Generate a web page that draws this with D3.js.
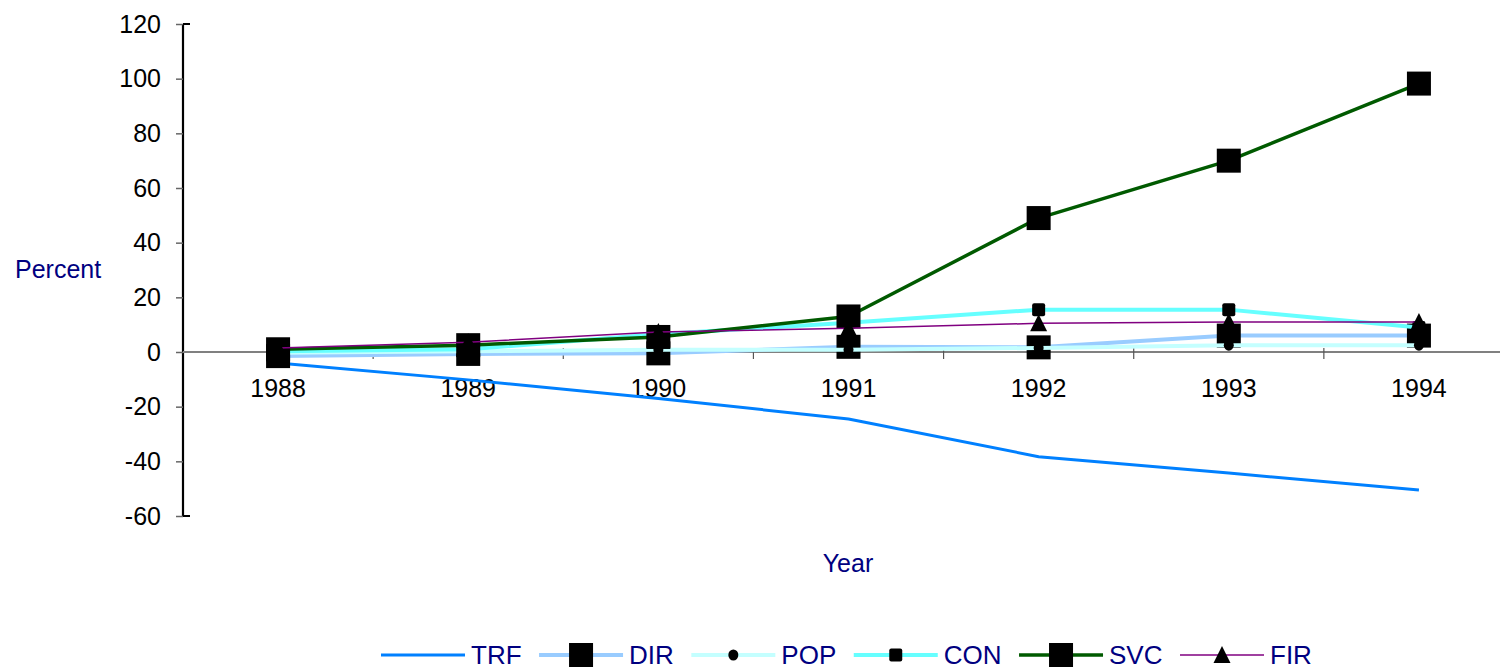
<!DOCTYPE html>
<html>
<head>
<meta charset="utf-8">
<script src="https://cdn.jsdelivr.net/npm/d3@7/dist/d3.min.js"></script>
<style>
  html, body { margin: 0; padding: 0; background: #fff; }
  svg { display: block; font-family: "Liberation Sans", Arial, sans-serif; }
</style>
</head>
<body>
<svg id="chart" width="1500" height="672"></svg>
<script>
// Annual percent change by component, 1988-1994
const years = ["1988", "1989", "1990", "1991", "1992", "1993", "1994"];
const trf = [-4, -10.2, -17, -24.5, -38.3, -44.3, -50.5];
const dir = [-1.5, -0.7, -0.5, 1.9, 1.7, 6, 6];
const pop = [-0.3, 0.3, 0.8, 0.8, 1.5, 2.5, 2.5];
const con = [0.3, 1, 6.5, 10.7, 15.5, 15.5, 9];
const svc = [1, 2.5, 5.5, 13, 49, 70, 98.2];
const fir = [1.5, 3.6, 7.3, 8.7, 10.5, 11, 11];
const yTicks = [120, 100, 80, 60, 40, 20, 0, -20, -40, -60];

const series = [
  { name: "TRF", values: trf, color: "#0080ff", width: 3,   marker: null },
  { name: "DIR", values: dir, color: "#99ccff", width: 4,   marker: "bigSquare" },
  { name: "POP", values: pop, color: "#c4ffff", width: 4,   marker: "circle" },
  { name: "CON", values: con, color: "#66ffff", width: 4,   marker: "smallSquare" },
  { name: "SVC", values: svc, color: "#005a00", width: 3.5, marker: "bigSquare" },
  { name: "FIR", values: fir, color: "#800080", width: 1.5, marker: "triangle" }
];

const svg = d3.select("#chart");
const plotLeft = 183, plotRight = 1514, plotTop = 24, plotBottom = 516;

const x = d3.scaleBand().domain(years).range([plotLeft, plotRight]).padding(0);
const y = d3.scaleLinear().domain([-60, 120]).range([plotBottom, plotTop]);
const cx = d => x(d) + x.bandwidth() / 2;

// y axis (plain hyphen for negatives)
const yAxis = svg.append("g")
  .attr("transform", `translate(${plotLeft},0)`)
  .call(d3.axisLeft(y).tickValues(yTicks).tickSize(7).tickPadding(15).tickFormat(d => String(d)));
yAxis.select(".domain").attr("stroke", "#000").attr("stroke-width", 2.2)
  .attr("d", `M0,${plotTop}V${plotBottom}M0,${plotTop}H7M0,${plotBottom}H7`);
yAxis.selectAll(".tick line").attr("stroke", "#666").attr("stroke-width", 1.5);
yAxis.selectAll(".tick text").attr("font-size", 25).attr("fill", "#000")
  .attr("font-family", "Liberation Sans, Arial, sans-serif");

// category axis along zero
const xAxisG = svg.append("g").attr("transform", `translate(0,${y(0)})`);
xAxisG.append("line")
  .attr("x1", plotLeft).attr("x2", plotRight).attr("y1", 0).attr("y2", 0)
  .attr("stroke", "#808080").attr("stroke-width", 2);
xAxisG.selectAll("line.cat-tick")
  .data(years.slice(1))
  .join("line")
  .attr("class", "cat-tick")
  .attr("x1", d => x(d)).attr("x2", d => x(d))
  .attr("y1", -4).attr("y2", 7)
  .attr("stroke", "#555").attr("stroke-width", 1.2);
xAxisG.selectAll("text.cat-label")
  .data(years)
  .join("text")
  .attr("class", "cat-label")
  .attr("x", d => cx(d)).attr("y", 45)
  .attr("text-anchor", "middle")
  .attr("font-size", 25).attr("fill", "#000")
  .text(d => d);

// axis titles
svg.append("text").attr("x", 15).attr("y", 278)
  .attr("font-size", 25).attr("fill", "#000080").text("Percent");
svg.append("text").attr("x", 848).attr("y", 572).attr("text-anchor", "middle")
  .attr("font-size", 25).attr("fill", "#000080").text("Year");

// marker shapes
function drawMarker(g, type, px, py) {
  if (type === "bigSquare") {
    g.append("rect").attr("x", px - 12).attr("y", py - 12).attr("width", 24).attr("height", 24).attr("fill", "#000");
  } else if (type === "smallSquare") {
    g.append("rect").attr("x", px - 6.5).attr("y", py - 6.5).attr("width", 13).attr("height", 13)
      .attr("rx", 2).attr("fill", "#000");
  } else if (type === "circle") {
    g.append("ellipse").attr("cx", px).attr("cy", py).attr("rx", 5).attr("ry", 5.5).attr("fill", "#000");
  } else if (type === "triangle") {
    g.append("path").attr("d", `M${px},${py - 9}L${px + 8.5},${py + 8}L${px - 8.5},${py + 8}Z`).attr("fill", "#000");
  }
}

const line = d3.line().x(d => cx(d.year)).y(d => y(d.value));

const plot = svg.append("g");
series.forEach(s => {
  const pts = years.map((yr, i) => ({ year: yr, value: s.values[i] }));
  const g = plot.append("g").attr("class", "series-" + s.name);
  g.append("path").datum(pts)
    .attr("d", line)
    .attr("fill", "none")
    .attr("stroke", s.color)
    .attr("stroke-width", s.width)
    .attr("stroke-linejoin", "round");
  if (s.marker) {
    pts.forEach(p => drawMarker(g, s.marker, cx(p.year), y(p.value)));
  }
});

// legend
const legend = svg.append("g");
const legendY = 655;
let lx = 381;
series.forEach(s => {
  const item = legend.append("g");
  item.append("line")
    .attr("x1", lx).attr("x2", lx + 84).attr("y1", legendY).attr("y2", legendY)
    .attr("stroke", s.color).attr("stroke-width", s.width);
  if (s.marker) drawMarker(item, s.marker, lx + 42, legendY);
  const t = item.append("text")
    .attr("x", lx + 90).attr("y", legendY + 9)
    .attr("font-size", 26).attr("fill", "#000080")
    .text(s.name);
  lx += 90 + t.node().getComputedTextLength() + 17.5;
});
</script>
</body>
</html>
